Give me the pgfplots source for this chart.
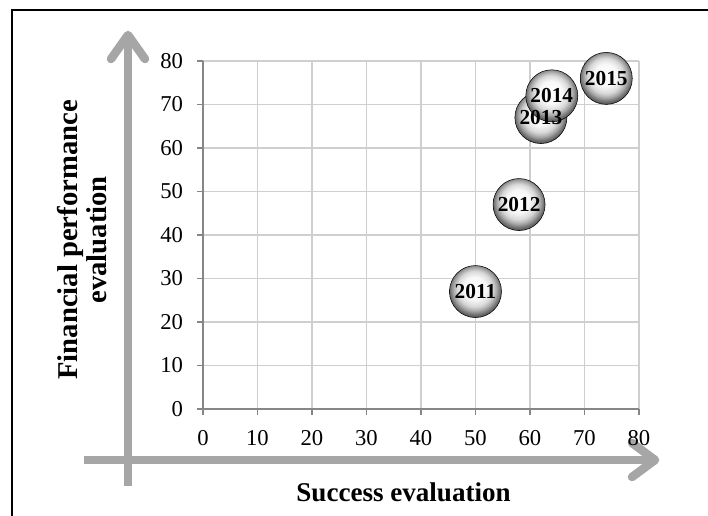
\documentclass[border=0pt]{standalone}
\usepackage{pgfplots}
\pgfplotsset{compat=1.18}
\usepackage{fontspec}
\setmainfont{Liberation Serif}
\definecolor{gridgray}{HTML}{CFCFCF}
\definecolor{axisgray}{HTML}{868686}
\definecolor{arrowgray}{HTML}{A6A6A6}
\pgfplotsset{/pgf/number format/assume math mode=true}
\makeatletter
\pgfdeclareradialshading[tikz@ball]{ball}{\pgfqpoint{-1bp}{4bp}}{%
  color(0bp)=(white); color(11bp)=(white!97!black); color(17bp)=(white!85!black);
  color(21bp)=(white!65!black); color(24bp)=(white!45!black); color(27bp)=(white!30!black);
  color(50bp)=(white!30!black)}
\makeatother
\begin{document}
\begin{tikzpicture}[x=0.75pt,y=0.75pt]
\path[use as bounding box] (0,0) rectangle (708,515);
% border (cropped box)
\draw[black, line width=1.8pt] (12,-5) -- (12,505) -- (720,505);
% big arrows
\draw[arrowgray, line width=6.4pt] (84,55) -- (654,55);
\draw[arrowgray, line width=6.4pt, line cap=round, line join=round] (632,72) -- (655,55) -- (632,38);
\draw[arrowgray, line width=6.4pt] (128,29) -- (128,480);
\draw[arrowgray, line width=6.4pt, line cap=round, line join=round] (111,456) -- (128,480) -- (145,456);
\begin{axis}[
  at={(152.25pt,79.5pt)}, anchor=south west,
  scale only axis, width=327pt, height=261pt,
  xmin=0, xmax=80, ymin=0, ymax=80,
  xtick={0,10,...,80}, ytick={0,10,...,80},
  clip=false,
  grid=major,
  major grid style={gridgray, line width=1.1pt},
  axis line style={axisgray, line width=1.1pt},
  axis x line*=bottom, axis y line*=left,
  tick align=outside,
  major tick length=4.5pt,
  tick style={axisgray, line width=1.1pt},
  ticklabel style={font=\fontsize{17}{19}\selectfont, text=black},
  xticklabel style={yshift=-8pt},
  yticklabel style={xshift=-7pt},
  xlabel={Success evaluation},
  xlabel style={font=\fontsize{20.3}{22}\selectfont\bfseries, at={(axis description cs:0.46,-0.239)}, anchor=center},
  ylabel={Financial performance\\evaluation},
  ylabel style={font=\fontsize{21.5}{22}\selectfont\bfseries, align=center, at={(axis description cs:-0.278,0.486)}, anchor=center},
]
\addplot[only marks, mark=ball, mark size=19.5pt, mark options={ball color=gray}]
  table {
x y
50 27
58 47
62 67
64 72
74 76
};
\addplot[draw=none, mark=none,
  point meta=explicit symbolic,
  nodes near coords,
  nodes near coords align=center,
  every node near coord/.append style={font=\fontsize{16}{18}\selectfont\bfseries, text=black, inner sep=0pt}]
  table[meta=label] {
x y label
50 27 2011
58 47 2012
62 67 2013
64 72 2014
74 76 2015
};
\end{axis}
\end{tikzpicture}
\end{document}
